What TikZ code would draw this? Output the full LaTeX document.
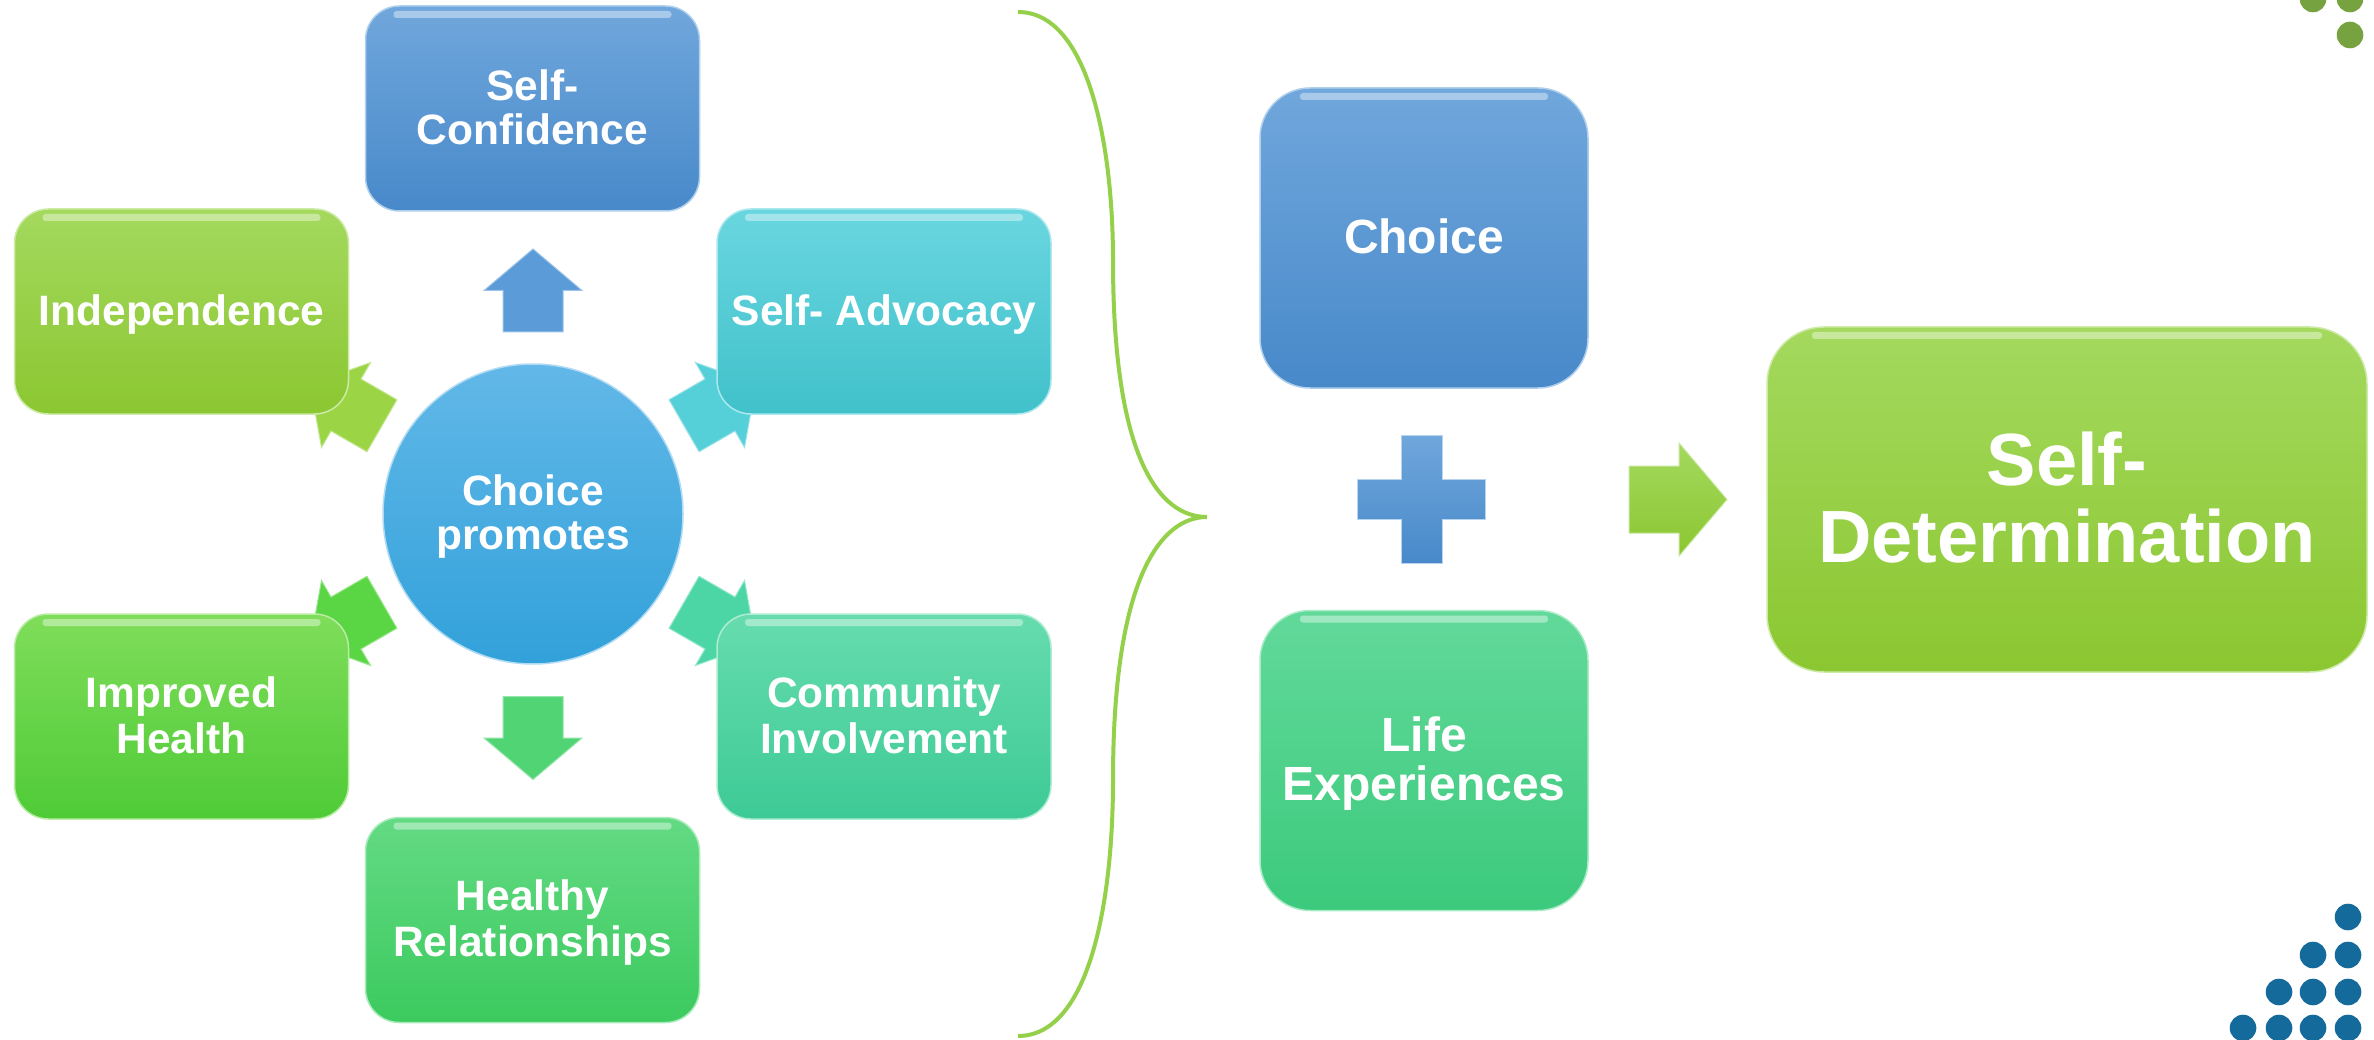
\documentclass[tikz,border=0pt]{standalone}
\usepackage{fontspec}
\setmainfont{Liberation Sans}
\definecolor{blueT}{HTML}{70A7DC}
\definecolor{blueB}{HTML}{4889CA}
\definecolor{limeT}{HTML}{A4D95E}
\definecolor{limeB}{HTML}{8BC731}
\definecolor{tealT}{HTML}{69D6DF}
\definecolor{tealB}{HTML}{41C1CB}
\definecolor{mintT}{HTML}{67DCAE}
\definecolor{mintB}{HTML}{3DCA96}
\definecolor{grnT}{HTML}{63DA84}
\definecolor{grnB}{HTML}{3CCA5E}
\definecolor{leafT}{HTML}{7FDD5A}
\definecolor{leafB}{HTML}{4FCB37}
\definecolor{lifeT}{HTML}{62D99A}
\definecolor{lifeB}{HTML}{3CCA7D}
\definecolor{circT}{HTML}{62B8E8}
\definecolor{circB}{HTML}{32A1DA}
\definecolor{braceC}{HTML}{94D04A}
\definecolor{dotBlue}{HTML}{156A9C}
\definecolor{dotGreen}{HTML}{77A240}
\definecolor{arrUL}{HTML}{9BD545}
\definecolor{arrUR}{HTML}{55CFD8}
\definecolor{arrLL}{HTML}{5AD543}
\definecolor{arrLR}{HTML}{4CD6A6}
\definecolor{arrUp}{HTML}{5A9BD8}
\definecolor{arrDn}{HTML}{50D474}
\newcommand\fsm{\fontsize{42.5}{44}\selectfont\bfseries}
\newcommand\fmd{\fontsize{48}{49.7}\selectfont\bfseries}
\newcommand\flg{\fontsize{74}{76.6}\selectfont\bfseries}
\newcommand\lnstrut{\rule[-0.185em]{0pt}{1.035em}}
\tikzset{blockarrow/.pic={\path[pic actions] (-41.5,-30) -- (0,-30) -- (0,-49) -- (41.5,0) -- (0,49) -- (0,30) -- (-41.5,30) -- cycle;}}
\begin{document}
\begin{tikzpicture}[x=1pt,y=-1pt,
  card/.style 2 args={rectangle, top color=#1, bottom color=#2, draw=#1!55!white, line width=1.5pt, text=white, align=center, inner sep=0pt},
  small/.style={minimum width=334pt, minimum height=205pt, rounded corners=34pt, font=\fsm},
  gloss/.style={path picture={\fill[white,opacity=0.4,rounded corners=3pt] ([xshift=#1,yshift=-5pt]path picture bounding box.north west) rectangle ([xshift=-#1,yshift=-12pt]path picture bounding box.north east);}},
  barr/.style={fill=#1, draw=#1!60!white, line width=1pt}]
\fill[white] (0,0) rectangle (2374,1040);
\useasboundingbox (0,0) rectangle (2374,1040);
% radial arrows
\pic[barr=arrUp, rotate=90] (aup) at (533,290.5) {blockarrow};
\pic[barr=arrDn, rotate=-90] (adn) at (533,738) {blockarrow};
\pic[barr=arrUL, rotate=150] (aul) at (346,405) {blockarrow};
\pic[barr=arrUR, rotate=30] (aur) at (720,405) {blockarrow};
\pic[barr=arrLL, rotate=210] (all) at (346,623) {blockarrow};
\pic[barr=arrLR, rotate=-30] (alr) at (720,623) {blockarrow};
% boxes
\node[card={blueT}{blueB}, small, gloss=28pt] (sc) at (532.5,108.5) {\lnstrut Self-\\\lnstrut Confidence};
\node[card={limeT}{limeB}, small, gloss=28pt] (ind) at (181.5,311.5) {\lnstrut Independence};
\node[card={tealT}{tealB}, small, gloss=28pt] (sa) at (884,311.5) {\lnstrut Self- Advocacy};
\node[card={leafT}{leafB}, small, gloss=28pt] (ih) at (181.5,716.5) {\lnstrut Improved\\\lnstrut Health};
\node[card={mintT}{mintB}, small, gloss=28pt] (ci) at (884,716.5) {\lnstrut Community\\\lnstrut Involvement};
\node[card={grnT}{grnB}, small, gloss=28pt] (hr) at (532.5,920) {\lnstrut Healthy\\\lnstrut Relationships};
\node[circle, minimum size=300pt, top color=circT, bottom color=circB, draw=circT!50!white, line width=1.5pt, text=white, align=center, font=\fsm, inner sep=0pt] (cp) at (533,514) {\lnstrut Choice\\\lnstrut promotes};
% brace
\draw[braceC, line width=4pt] (1018,12) .. controls (1090,12) and (1113,150) .. (1113,260) .. controls (1113,460) and (1160,517) .. (1207,517) .. controls (1160,517) and (1113,580) .. (1113,780) .. controls (1113,900) and (1090,1036) .. (1018,1036);
% right part
\node[card={blueT}{blueB}, minimum width=328pt, minimum height=300pt, rounded corners=50pt, font=\fmd, gloss=40pt] (ch) at (1424,238) {\lnstrut Choice};
\node[card={lifeT}{lifeB}, minimum width=328pt, minimum height=300pt, rounded corners=50pt, font=\fmd, gloss=40pt] (le) at (1424,760.5) {\lnstrut Life\\\lnstrut Experiences};
\shade[top color=blueT, bottom color=blueB, draw=blueT!50!white, line width=1pt] (1401,435) -- (1442,435) -- (1442,479) -- (1485,479) -- (1485,519) -- (1442,519) -- (1442,563) -- (1401,563) -- (1401,519) -- (1357,519) -- (1357,479) -- (1401,479) -- cycle;
\shade[top color=limeT, bottom color=limeB, draw=limeT!60!white, line width=1pt] (1629,466) -- (1679,466) -- (1679,443) -- (1727,499.5) -- (1679,556) -- (1679,533) -- (1629,533) -- cycle;
\node[card={limeT}{limeB}, minimum width=600pt, minimum height=345pt, rounded corners=57pt, font=\flg, gloss=45pt] (sd) at (2067,499.5) {\lnstrut Self-\\\lnstrut Determination};
% dots
\foreach \p in {(2313,-1),(2350,-1),(2350,35)} \fill[dotGreen] \p circle[radius=13.3pt];
\foreach \p in {(2348,917),(2313,955),(2348,955),(2279,992),(2313,992),(2348,992),(2243,1028),(2279,1028),(2313,1028),(2348,1028)} \fill[dotBlue] \p circle[radius=13.3pt];
\end{tikzpicture}
\end{document}
